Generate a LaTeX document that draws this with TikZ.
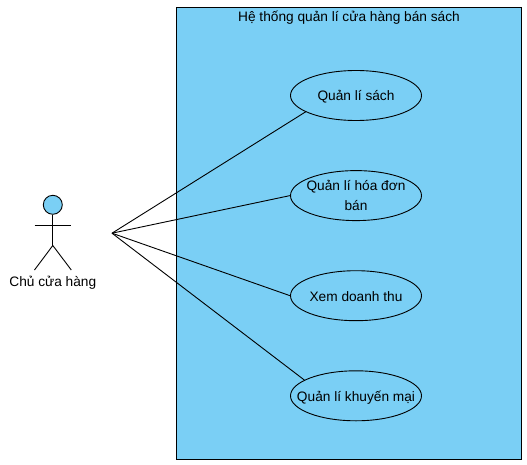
\documentclass[tikz,border=0pt]{standalone}
\usepackage{fontspec}
\setmainfont{Liberation Sans}
\usepackage{xcolor}
\usetikzlibrary{positioning,shapes.geometric,calc}
\definecolor{sysblue}{HTML}{7ACFF5}
\tikzset{
  sysbox/.style={rectangle, draw=black, fill=sysblue, line width=1pt, minimum width=345pt, minimum height=451.5pt, inner sep=0pt},
  usecase/.style={ellipse, draw=black, fill=sysblue, line width=0.9pt, align=center, minimum width=131pt, minimum height=50pt, inner xsep=-20pt, inner ysep=-12pt},
  oneline/.style={text height=13pt, text depth=2pt},
  actorhead/.style={circle, draw=black, fill=sysblue, line width=0.9pt, minimum size=19pt, inner sep=0pt},
  actorline/.style={line width=0.9pt, black},
  assoc/.style={line width=0.9pt, black},
  plainlabel/.style={inner sep=0pt, align=center, text height=10pt, text depth=0pt}
}

\begin{document}
\begin{tikzpicture}[x=1pt, y=1pt, font=\fontsize{13.7}{19}\selectfont, node distance=49.2pt]
\useasboundingbox (0,0) rectangle (527,-465);

\node[sysbox] (system) at (349,-233.25) {};
\node[plainlabel, below=9.8pt of system.north, anchor=center] (title) {Hệ thống quản lí cửa hàng bán sách};

\node[usecase, oneline] (sach) at (356,-95.5) {Quản lí sách};
\node[usecase, below=of sach] (hoadon) {Quản lí hóa đơn\\[1pt]bán};
\node[usecase, oneline, below=of hoadon] (doanhthu) {Xem doanh thu};
\node[usecase, oneline, below=of doanhthu] (khuyenmai) {Quản lí khuyến mại};

\node[actorhead] (head) at (52.8,-204.8) {};
\coordinate (hip) at (52.8,-245.5);
\coordinate (handl) at (34.5,-225);
\coordinate (handr) at (71.3,-225);
\coordinate (footl) at (34.5,-270);
\coordinate (footr) at (71.3,-270);
\node[plainlabel] (actor) at (52.8,-281) {Chủ cửa hàng};
\coordinate (hub) at (112,-233.2);

\draw[actorline] (head) -- (hip);
\draw[actorline] (handl) -- (handr);
\draw[actorline] (footl) -- (hip) -- (footr);

\draw[assoc] (hub) -- (sach.198);
\draw[assoc] (hub) -- (hoadon.west);
\draw[assoc] (hub) -- (doanhthu.west);
\draw[assoc] (hub) -- (khuyenmai.163);
\end{tikzpicture}
\end{document}
